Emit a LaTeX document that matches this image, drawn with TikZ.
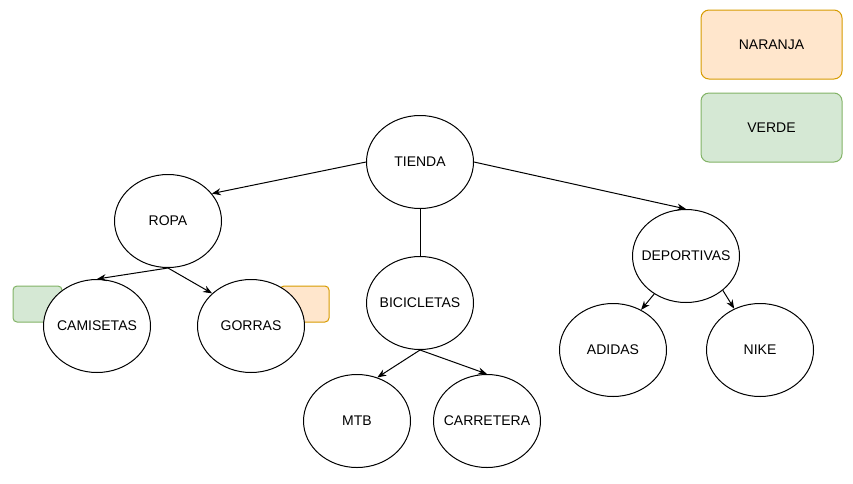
\documentclass[tikz,border=0pt]{standalone}
\usepackage{fontspec}
\setmainfont{Liberation Sans}
\usetikzlibrary{shapes.geometric,arrows.meta}

\definecolor{naranjafill}{HTML}{FFE6CC}
\definecolor{naranjaline}{HTML}{D79B00}
\definecolor{verdefill}{HTML}{D5E8D4}
\definecolor{verdeline}{HTML}{82B366}

\newcommand\ew{107pt}
\newcommand\eh{93pt}
\newcommand\fs{\fontsize{14}{16}\selectfont}

\begin{document}
\begin{tikzpicture}[x=1pt,y=-1pt,
    item/.style={ellipse,draw,fill=white,line width=1pt,minimum width=\ew,minimum height=\eh,inner xsep=-10pt,inner ysep=0pt,font=\fs},
    legend/.style={draw,rounded corners=8pt,line width=1pt,minimum width=141pt,minimum height=69pt,font=\fs},
    tagbox/.style={draw,rounded corners=4pt,line width=1pt,minimum width=49pt,minimum height=36pt},
    link/.style={-{Stealth[length=9pt,width=7pt]},line width=1pt}]
    \useasboundingbox (0,0) rectangle (853,483);

    % legend
    \node[legend,fill=naranjafill,draw=naranjaline] (naranja) at (771.5,44.5) {NARANJA};
    \node[legend,fill=verdefill,draw=verdeline] (verde) at (771.5,127.5) {VERDE};

    % small tags behind the leaves
    \node[tagbox,fill=verdefill,draw=verdeline] (tagcam) at (37.5,304) {};
    \node[tagbox,fill=naranjafill,draw=naranjaline] (taggor) at (304.5,304) {};

    % tree
    \node[item] (tienda) at (420,162) {TIENDA};
    \node[item] (ropa) at (168,221) {ROPA};
    \node[item] (camisetas) at (97,326) {CAMISETAS};
    \node[item] (gorras) at (251,326) {GORRAS};
    \node[item] (bicicletas) at (420,303) {BICICLETAS};
    \node[item] (mtb) at (357,421) {MTB};
    \node[item] (carretera) at (487,421) {CARRETERA};
    \node[item] (deportivas) at (686,256) {DEPORTIVAS};
    \node[item] (adidas) at (613,350) {ADIDAS};
    \node[item] (nike) at (760,350) {NIKE};

    \draw[link] (tienda.west) -- (ropa.32);
    \draw[link] (tienda.east) -- (deportivas.north);
    \draw[line width=1pt] (tienda.south) -- (bicicletas.north);
    \draw[link] (ropa.south) -- (camisetas.north);
    \draw[link] (ropa.south) -- (gorras.140);
    \draw[link] (bicicletas.south) -- (mtb.65);
    \draw[link] (bicicletas.south) -- (carretera.north);
    \draw[link] (deportivas.230) -- (adidas.55);
    \draw[link] (deportivas.317) -- (nike.122);
  \end{tikzpicture}
\end{document}
